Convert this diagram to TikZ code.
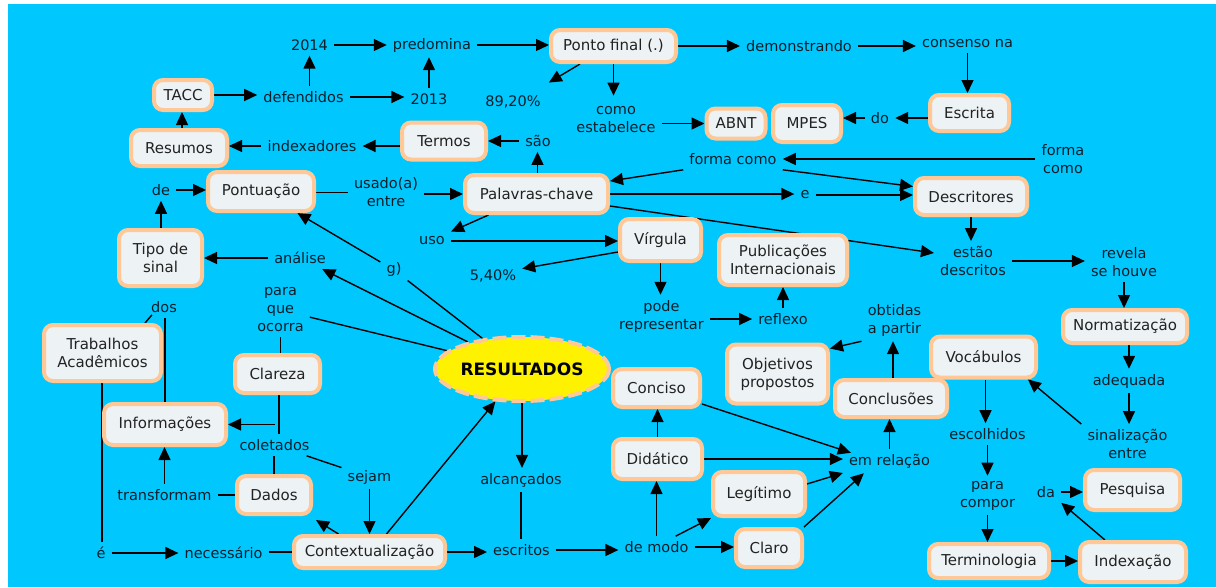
\documentclass[tikz,border=0pt]{standalone}
\usepackage{fontspec}
\setmainfont{DejaVu Sans}
\usetikzlibrary{arrows.meta,shapes.geometric}
\definecolor{bgblue}{HTML}{00C8FF}
\definecolor{peach}{HTML}{FFC896}
\definecolor{boxfill}{HTML}{EDF2F4}
\definecolor{boxtext}{HTML}{222222}
\definecolor{linkc}{HTML}{0A1E2A}
\pgfdeclarelayer{bgl}
\pgfdeclarelayer{edges}
\pgfsetlayers{bgl,edges,main}
\tikzset{
  lk/.style={font=\fontsize{14.5}{18}\selectfont, text=linkc, inner xsep=6pt, inner ysep=5pt, align=center},
  box/.style={draw=peach, line width=4pt, fill=boxfill, rounded corners=9pt, font=\fontsize{15}{18}\selectfont, text=boxtext, inner sep=2pt, align=center},
  bx/.style 2 args={box, minimum width=#1pt-4pt, minimum height=#2pt-4pt},
  arr/.style={-{Triangle[length=13pt,width=12pt]}, line width=1.4pt, draw=black},
  ln/.style={line width=1.4pt, draw=black},
  mainell/.style={ellipse, draw=peach, line width=4pt, dash pattern=on 14pt off 5pt, fill=yellow, minimum width=160pt, minimum height=64pt, inner sep=0pt, font=\bfseries\fontsize{17}{20}\selectfont, text=black}
}
\begin{document}
\begin{tikzpicture}[x=1pt,y=-1pt]
\useasboundingbox (0,0) rectangle (1216,587);
\begin{pgfonlayer}{bgl}
\fill[white] (0,0) rectangle (1216,587);
\fill[bgblue] (8,4) rectangle (1216,587);
\end{pgfonlayer}
% concept boxes
\node[bx={62}{34}] (tacc) at (183,95) {TACC};
\node[bx={100}{40}] (resumos) at (179,148) {Resumos};
\node[bx={110}{43}] (pontuacao) at (261,191.5) {Pontuação};
\node[bx={88}{41}] (termos) at (444,141) {Termos};
\node[bx={129}{36}] (ponto) at (613.5,46) {Ponto final (.)};
\node[bx={63}{34}] (abnt) at (736,123.5) {ABNT};
\node[bx={72}{41}] (mpes) at (807,123.5) {MPES};
\node[bx={83}{40}] (escrita) at (969.5,113) {Escrita};
\node[bx={147}{42}] (palavras) at (536.5,194) {Palavras-chave};
\node[bx={116}{41}] (descritores) at (971,196.5) {Descritores};
\node[bx={87}{60}] (tipo) at (160.5,258) {Tipo de\\sinal};
\node[bx={85}{46}] (virgula) at (660.5,240) {Vírgula};
\node[bx={132}{54}] (publicacoes) at (783,260) {Publicações\\Internacionais};
\node[bx={128}{37}] (normat) at (1125,326.5) {Normatização};
\node[bx={121}{60}] (trabalhos) at (102.5,353) {Trabalhos\\Acadêmicos};
\node[bx={89}{42}] (clareza) at (277.5,374) {Clareza};
\node[bx={105}{63}] (objetivos) at (777.5,374) {Objetivos\\propostos};
\node[bx={109}{45}] (vocabulos) at (983.5,357) {Vocábulos};
\node[bx={116}{41}] (conclusoes) at (891,398.5) {Conclusões};
\node[bx={91}{42}] (conciso) at (656.5,388) {Conciso};
\node[bx={126}{45}] (informacoes) at (165,424.5) {Informações};
\node[bx={93}{44}] (didatico) at (657.5,459) {Didático};
\node[bx={96}{48}] (legitimo) at (759,494) {Legítimo};
\node[bx={78}{42}] (dados) at (274,495) {Dados};
\node[bx={155}{36}] (context) at (369.5,552) {Contextualização};
\node[bx={70}{42}] (claro) at (769,548) {Claro};
\node[bx={124}{38}] (termino) at (989,561) {Terminologia};
\node[bx={110}{44}] (index) at (1133,562) {Indexação};
\node[bx={99}{44}] (pesquisa) at (1132.5,490) {Pesquisa};
\node[mainell] (resultados) at (522,369) {RESULTADOS};
% linking phrases
\node[lk] (y2014) at (309.5,45) {2014};
\node[lk] (predomina) at (432,45) {predomina};
\node[lk] (defend) at (303.5,97) {defendidos};
\node[lk] (y2013) at (429,99) {2013};
\node[lk] (p8920) at (513,102) {89,20\%};
\node[lk] (comoest) at (616,120) {como\\estabelece};
\node[lk] (demonstr) at (799,46) {demonstrando};
\node[lk] (consenso) at (967.5,44) {consenso na};
\node[lk] (do) at (880,118) {do};
\node[lk] (sao) at (538,141) {são};
\node[lk] (indexadores) at (312,146) {indexadores};
\node[lk] (formaM) at (733,159) {forma como};
\node[lk] (formaR) at (1063,159) {forma\\como};
\node[lk] (de) at (161,190) {de};
\node[lk] (usado) at (386,192.5) {usado(a)\\entre};
\node[lk] (e) at (805,195) {e};
\node[lk] (uso) at (432,241) {uso};
\node[lk] (p540) at (493,276) {5,40\%};
\node[lk] (analise) at (300,258) {análise};
\node[lk] (g) at (394,270) {g)};
\node[lk] (estao) at (973,261) {estão\\descritos};
\node[lk] (revela) at (1124,262) {revela\\se houve};
\node[lk] (dos) at (164,307) {dos};
\node[lk] (paraque) at (280.5,310) {para\\que\\ocorra};
\node[lk] (pode) at (661.5,316) {pode\\representar};
\node[lk] (reflexo) at (783,319) {reflexo};
\node[lk] (obtidas) at (894.5,320) {obtidas\\a partir};
\node[lk] (adequada) at (1129,381) {adequada};
\node[lk] (coletados) at (274.5,445) {coletados};
\node[lk] (sejam) at (369.5,477) {sejam};
\node[lk] (escolhidos) at (987.5,434) {escolhidos};
\node[lk] (sinal) at (1127.5,444) {sinalização\\entre};
\node[lk] (emrel) at (889.5,461) {em relação};
\node[lk] (alcancados) at (521,480) {alcançados};
\node[lk] (paracompor) at (987.5,495.5) {para\\compor};
\node[lk] (da) at (1046,492) {da};
\node[lk] (transformam) at (164.5,495) {transformam};
\node[lk] (eacc) at (101,553) {é};
\node[lk] (necessario) at (223.5,553) {necessário};
\node[lk] (escritos) at (521.5,550) {escritos};
\node[lk] (demodo) at (656.5,547) {de modo};
% connectors
\begin{pgfonlayer}{edges}
\draw[arr] (y2014.east) -- (y2014.east -| predomina.west);
\draw[arr] (y2014.south |- defend.north) -- (y2014.south);
\draw[arr] (tacc.east) -- (tacc.east -| defend.west);
\draw[arr] (defend.east) -- (defend.east -| y2013.west);
\draw[arr] (y2013.north) -- (y2013.north |- predomina.south);
\draw[arr] (predomina.east) -- (predomina.east -| ponto.west);
\draw[arr] ([xshift=31pt]ponto.south west) -- ([shift={(2pt,8pt)}]p8920.north east);
\draw[arr] (ponto.south) -- ([yshift=6pt]ponto.south |- comoest.north);
\draw[arr] (ponto.east) -- (ponto.east -| demonstr.west);
\draw[arr] (demonstr.east) -- (demonstr.east -| consenso.west);
\draw[arr] (consenso.south) -- (consenso.south |- escrita.north);
\draw[arr] (escrita.west |- do.east) -- (do.east);
\draw[arr] (do.west) -- (do.west -| mpes.east);
\draw[arr] (comoest.east |- abnt.west) -- (abnt.west);
\draw[arr] ([xshift=1pt]palavras.north) -- ([xshift=1pt]palavras.north |- sao.south);
\draw[arr] (sao.west) -- (sao.west -| termos.east);
\draw[arr] (termos.west |- indexadores.east) -- (indexadores.east);
\draw[arr] (indexadores.west) -- (indexadores.west -| resumos.east);
\draw[arr] ([xshift=3pt]resumos.north) -- ([xshift=3pt]resumos.north |- tacc.south);
\draw[arr] (de.east) -- (de.east -| pontuacao.west);
\draw[arr] (de.south |- tipo.north) -- (de.south);
\draw[ln] (pontuacao.east |- usado.west) -- (usado.west);
\draw[arr] (usado.east |- palavras.west) -- (palavras.west);
\draw[arr] (formaR.west |- formaM.east) -- (formaM.east);
\draw[arr] (formaM.south west) -- ([yshift=-8pt]palavras.north east);
\draw[arr] (formaM.south east) -- ([yshift=10pt]descritores.west);
\draw[arr] (palavras.east) -- (palavras.east -| e.west);
\draw[arr] (e.east) -- (e.east -| descritores.west);
\draw[arr] ([xshift=-48pt]palavras.south) -- (uso.north east);
\draw[arr] (uso.east) -- (uso.east -| virgula.west);
\draw[arr] ([yshift=-12pt]virgula.west) -- ([yshift=-4pt]p540.north east);
\draw[arr] (virgula.south) -- (virgula.south |- pode.north);
\draw[arr] (pode.east |- reflexo.west) -- (reflexo.west);
\draw[arr] (reflexo.north) -- (reflexo.north |- publicacoes.south);
\draw[arr] ([yshift=-12pt]palavras.east) -- ([yshift=8pt]estao.west);
\draw[arr] (descritores.south) -- (descritores.south |- estao.north);
\draw[arr] (estao.east) -- (estao.east -| revela.west);
\draw[arr] (revela.south) -- (revela.south |- normat.north);
\draw[arr] (adequada.north |- normat.south) -- (adequada.north);
\draw[arr] (adequada.south) -- (adequada.south |- sinal.north);
\draw[arr] (sinal.north west) -- ([xshift=-10pt]vocabulos.south east);
\draw[arr] ([xshift=2pt]vocabulos.south) -- ([xshift=2pt]vocabulos.south |- escolhidos.north);
\draw[arr] (escolhidos.south) -- (escolhidos.south |- paracompor.north);
\draw[arr] (paracompor.south) -- (paracompor.south |- termino.north);
\draw[arr] (termino.east) -- (termino.east -| index.west);
\draw[arr] ([xshift=-28pt]index.north) -- (da.south east);
\draw[arr] (da.east) -- (da.east -| pesquisa.west);
\draw[arr] (emrel.north) -- (emrel.north |- conclusoes.south);
\draw[arr] ([xshift=2pt]conclusoes.north) -- ([xshift=2pt]conclusoes.north |- obtidas.south);
\draw[arr] (obtidas.south west) -- ([yshift=-6pt]objetivos.north east);
\draw[arr] ([yshift=-16pt]conciso.east) -- ([shift={(8pt,-4pt)}]emrel.north west);
\draw[arr] (didatico.east) -- (didatico.east -| emrel.west);
\draw[arr] ([yshift=10pt]legitimo.east) -- ([yshift=-12pt]emrel.west);
\draw[arr] (claro.north east) -- ([xshift=21pt]emrel.south west);
\draw[arr] (didatico.north) -- (didatico.north |- conciso.south);
\draw[arr] (demodo.north) -- (demodo.north |- didatico.south);
\draw[arr] ([xshift=-19pt]demodo.north east) -- (legitimo.south west);
\draw[arr] (demodo.east) -- (demodo.east -| claro.west);
\draw[arr] (escritos.east) -- (escritos.east -| demodo.west);
\draw[arr] (context.east) -- (context.east -| escritos.west);
\draw[arr] (resultados.south) -- (resultados.south |- alcancados.north);
\draw[ln] (alcancados.south) -- (alcancados.south |- escritos.north);
\draw[arr] ([xshift=17pt]context.north) -- (resultados);
\draw[arr] (sejam.south) -- (sejam.south |- context.north);
\draw[ln] (coletados) -- (sejam);
\draw[ln] (dados.north) -- (dados.north |- coletados.south);
\draw[ln] ([xshift=1.5pt]clareza.south) -- ([xshift=1.5pt]clareza.south |- coletados.north);
\draw[arr] ([xshift=-3pt]clareza.south |- informacoes.east) -- (informacoes.east);
\draw[ln] (dados.west) -- (dados.west -| transformam.east);
\draw[arr] (transformam.north) -- (transformam.north |- informacoes.south);
\draw[arr] ([xshift=-31pt]context.north) -- ([shift={(3pt,-4pt)}]dados.south east);
\draw[ln] (context.west) -- (context.west -| necessario.east);
\draw[arr] (eacc.east) -- (eacc.east -| necessario.west);
\draw[ln] ([xshift=1pt]eacc.north |- trabalhos.south) -- ([xshift=1pt]eacc.north);
\draw[ln] ([xshift=-18pt]trabalhos.north east) -- ([shift={(7pt,3pt)}]dos.south west);
\draw[ln] (informacoes.north) -- (informacoes.north |- dos.south);
\draw[ln] (resultados) -- (g);
\draw[arr] (g) -- (pontuacao);
\draw[arr] (resultados) -- (analise);
\draw[arr] (analise.west) -- (analise.west -| tipo.east);
\draw[ln] (resultados) -- (paraque);
\draw[ln] (paraque.south) -- (paraque.south |- clareza.north);
\end{pgfonlayer}
\end{tikzpicture}
\end{document}
